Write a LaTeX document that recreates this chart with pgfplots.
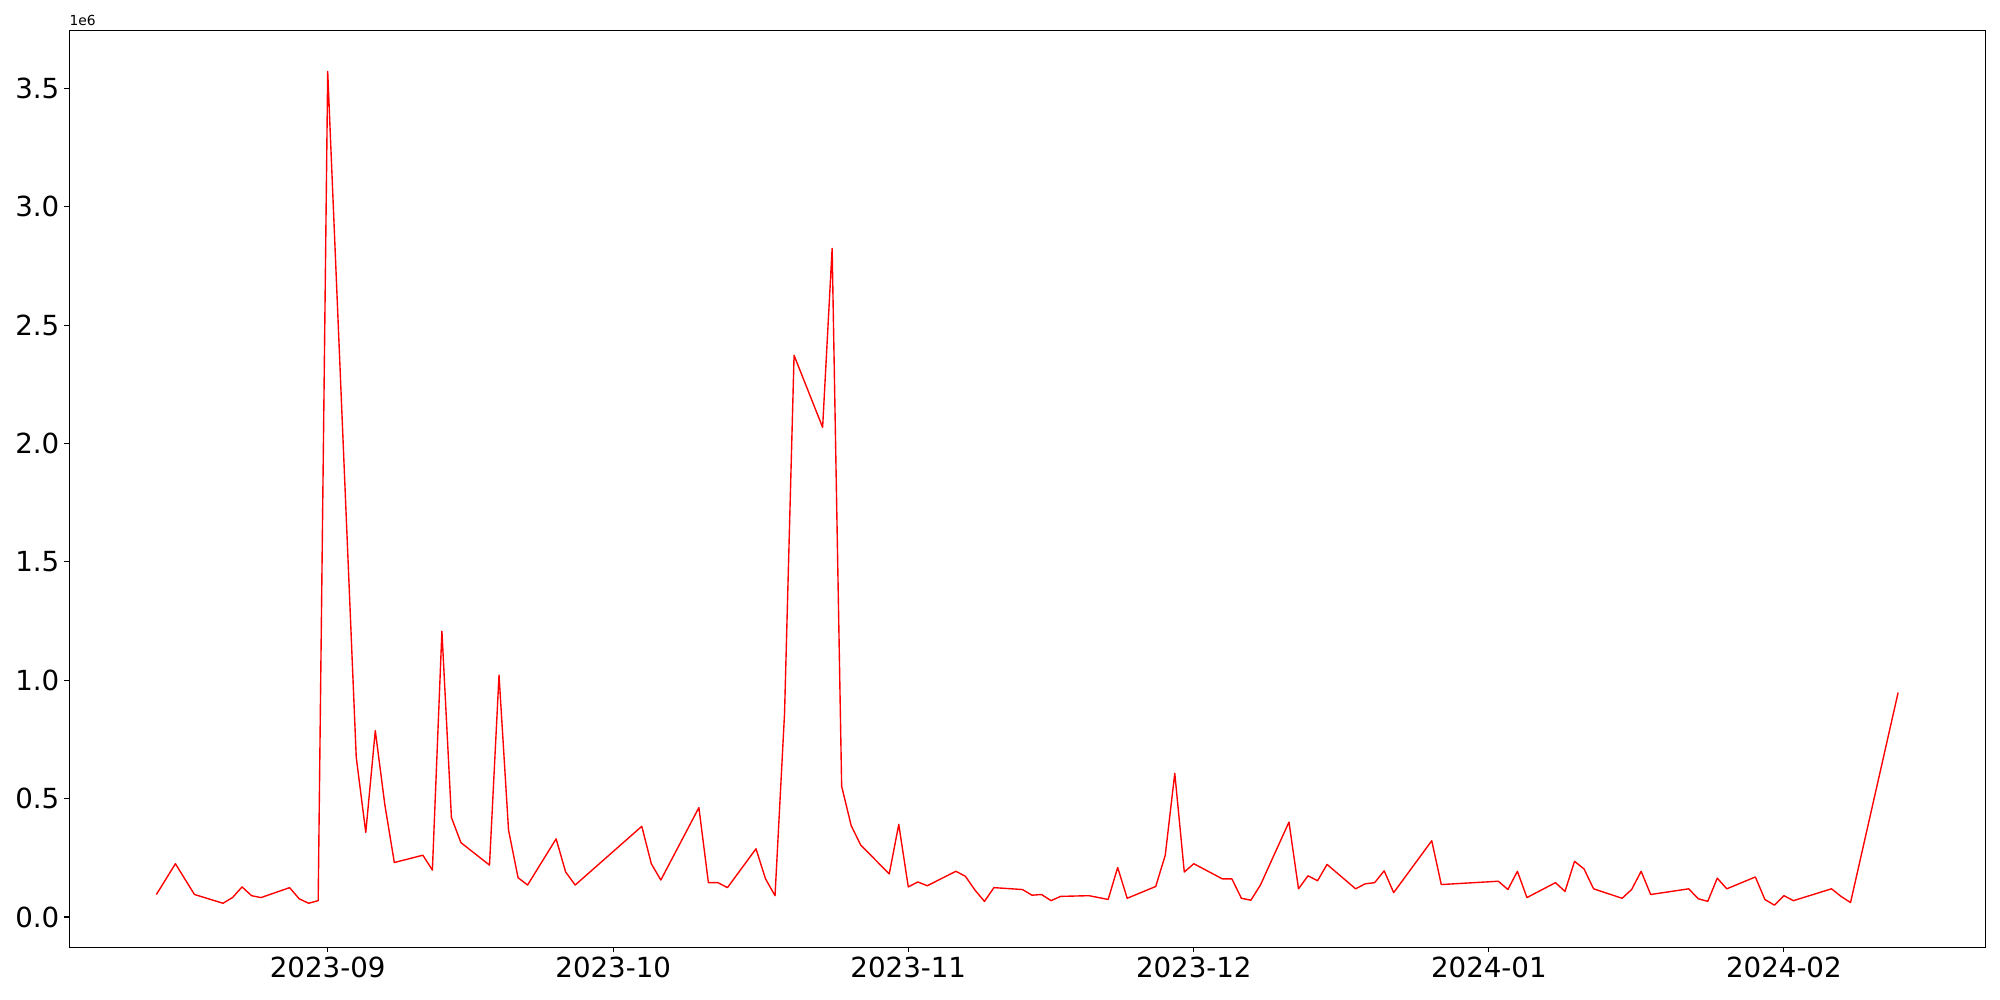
\documentclass[border=0pt]{standalone}
\usepackage{fontspec}
\setmainfont{DejaVu Sans}
\usepackage{pgfplots}
\pgfplotsset{compat=1.18}
\begin{document}
\begin{tikzpicture}
\path[use as bounding box] (-0.693in,-0.527in) rectangle (19.307in,9.473in);
\begin{axis}[
  scale only axis,
  width=19.164in, height=9.17in,
  xmin=-27.15, xmax=174.2,
  ymin=-0.128, ymax=3.745,
  axis line style={line width=0.8pt},
  tick align=outside,
  tick pos=left,
  major tick length=3.5pt,
  every tick/.style={line width=0.8pt, black},
  xtick={0,30,61,91,122,153},
  xticklabels={2023-09,2023-10,2023-11,2023-12,2024-01,2024-02},
  ytick={0,0.5,1,1.5,2,2.5,3,3.5},
  yticklabel style={/pgf/number format/fixed, /pgf/number format/fixed zerofill, /pgf/number format/precision=1},
  /pgf/number format/assume math mode=true,
  ticklabel style={font=\fontsize{20}{24}\selectfont, inner sep=0pt},
  xticklabel style={yshift=-3.5pt},
  yticklabel style={xshift=-3.5pt},
  scaled y ticks=false,
  clip=false,
]
\addplot[red, line width=1pt, line join=round] coordinates {
(-18,0.095) (-16,0.225) (-14,0.095) (-11,0.058) (-10,0.082) (-9,0.127) (-8,0.090) (-7,0.082)
(-4,0.124) (-3,0.077) (-2,0.058) (-1,0.069) (0,3.571) (3,0.674) (4,0.357) (5,0.787) (6,0.475)
(7,0.230) (10,0.261) (11,0.198) (12,1.207) (13,0.420) (14,0.314) (17,0.219) (18,1.022)
(19,0.367) (20,0.166) (21,0.135) (24,0.330) (25,0.190) (26,0.135) (33,0.383) (34,0.225)
(35,0.156) (39,0.462) (40,0.145) (41,0.145) (42,0.124) (45,0.288) (46,0.161) (47,0.090)
(48,0.860) (49,2.372) (52,2.068) (53,2.824) (54,0.552) (55,0.386) (56,0.304) (59,0.182)
(60,0.391) (61,0.127) (62,0.148) (63,0.132) (66,0.193) (67,0.172) (68,0.114) (69,0.066)
(70,0.124) (73,0.116) (74,0.092) (75,0.095) (76,0.069) (77,0.087) (80,0.090) (82,0.074)
(83,0.209) (84,0.079) (87,0.129) (88,0.261) (89,0.607) (90,0.190) (91,0.225) (94,0.161)
(95,0.161) (96,0.079) (97,0.071) (98,0.135) (101,0.401) (102,0.119) (103,0.174) (104,0.153)
(105,0.222) (108,0.119) (109,0.140) (110,0.145) (111,0.195) (112,0.103) (116,0.322)
(117,0.137) (123,0.151) (124,0.116) (125,0.193) (126,0.082) (129,0.145) (130,0.108)
(131,0.235) (132,0.203) (133,0.119) (136,0.079) (137,0.116) (138,0.193) (139,0.095)
(143,0.119) (144,0.077) (145,0.066) (146,0.164) (147,0.119) (150,0.169) (151,0.074)
(152,0.050) (153,0.090) (154,0.069) (158,0.119) (159,0.087) (160,0.061) (165,0.948)
};
\node[anchor=south west, inner sep=0pt, font=\fontsize{10}{12}\selectfont, yshift=3pt] at (rel axis cs:0,1) {1e6};
\end{axis}
\end{tikzpicture}
\end{document}
